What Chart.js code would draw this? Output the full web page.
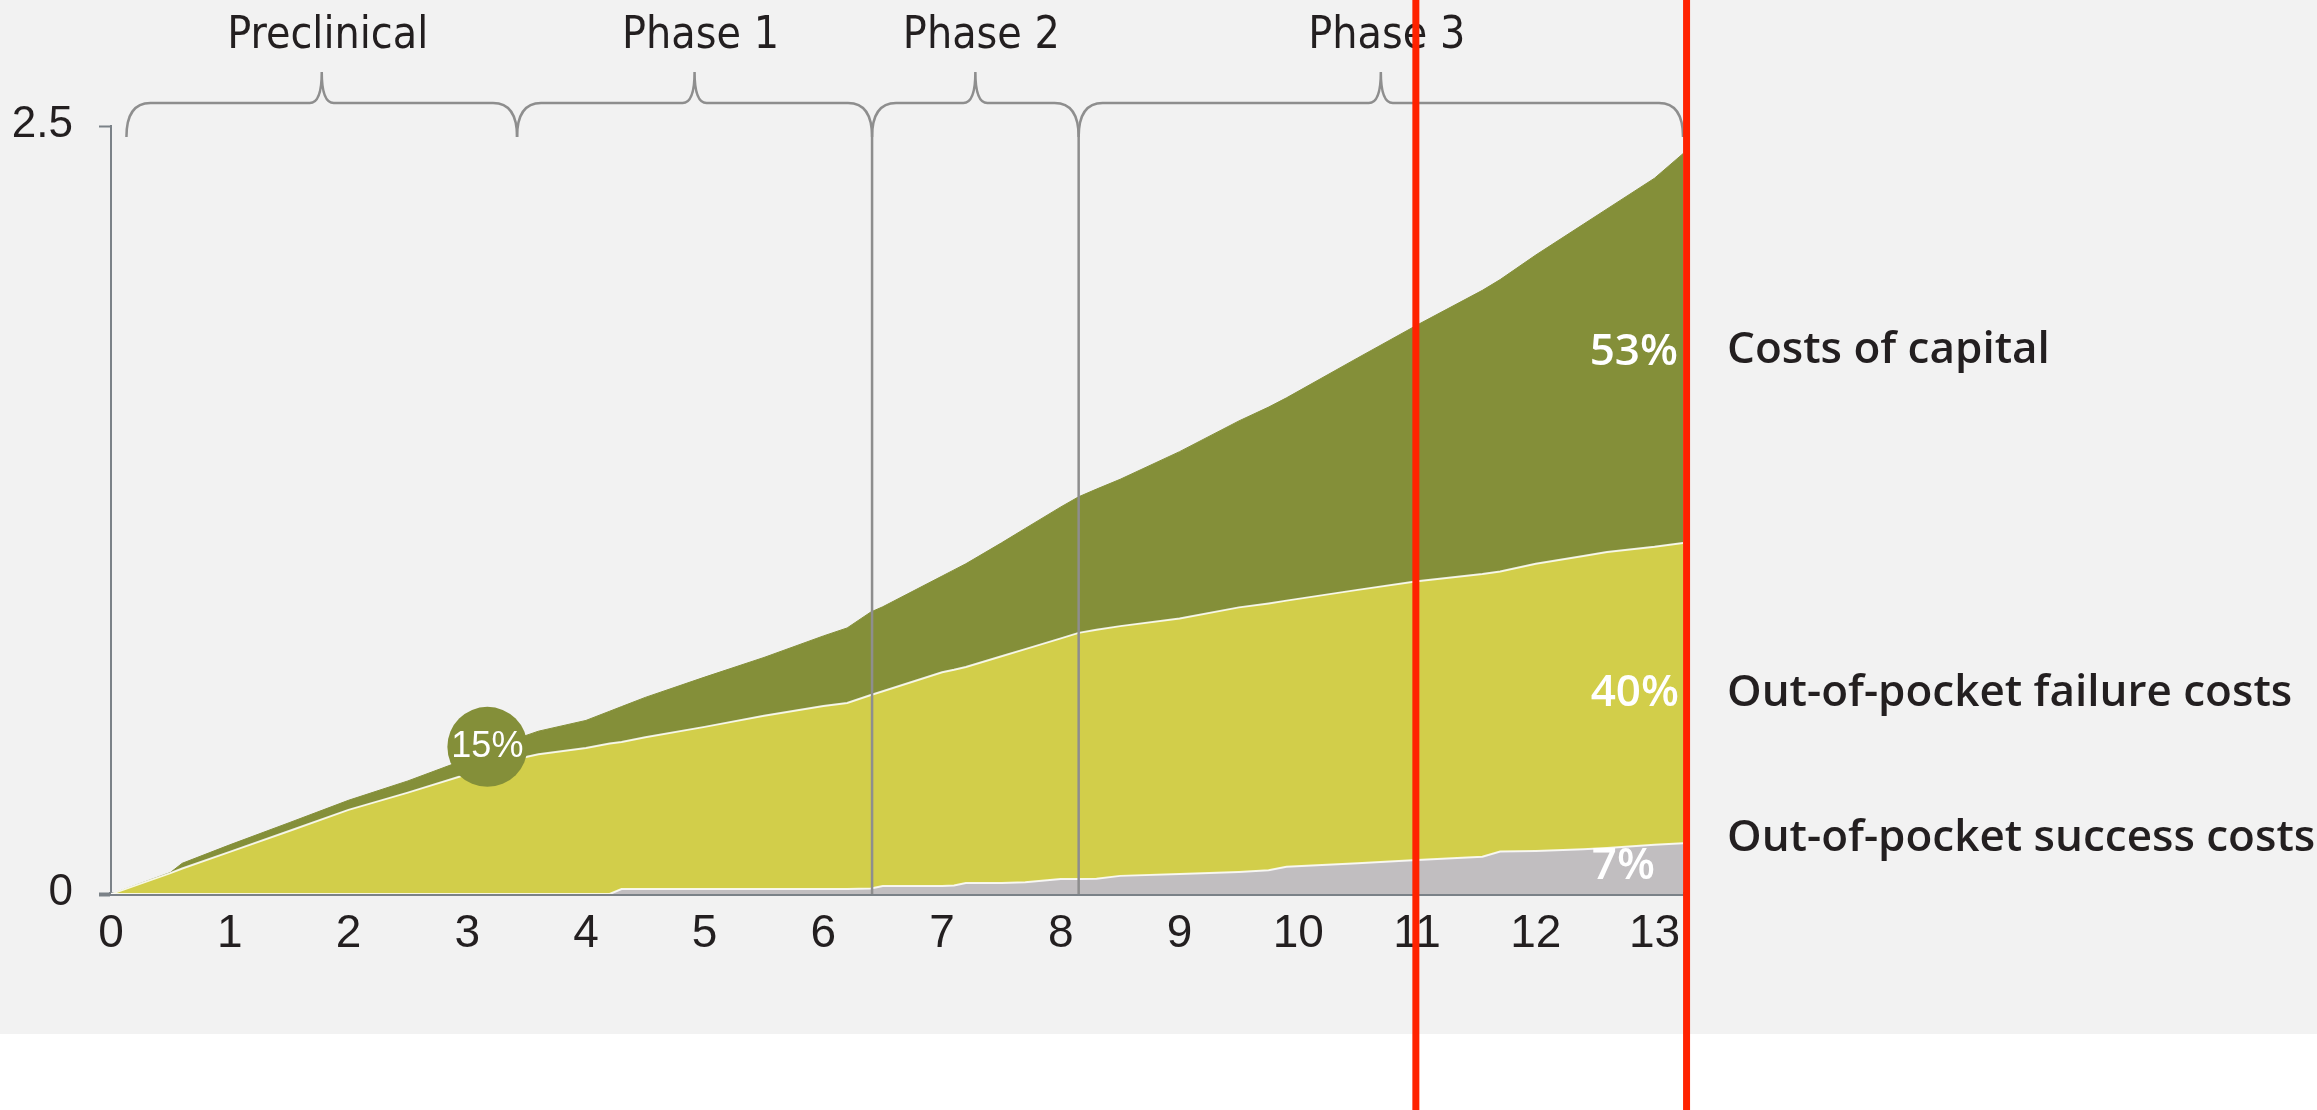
<!DOCTYPE html>
<html>
<head>
<meta charset="utf-8">
<script src="https://cdn.jsdelivr.net/npm/chart.js@4.4.1/dist/chart.umd.min.js"></script>
<style>
  html, body { margin: 0; padding: 0; background: #fff; }
  #wrap { position: relative; width: 2317px; height: 1110px; }
  #bg { position: absolute; left: 0; top: 0; width: 2317px; height: 1034px; background: #f2f2f2; }
  canvas { position: absolute; left: 0; top: 0; }
</style>
</head>
<body>
<div id="wrap"><div id="bg"></div><canvas id="chart" width="2317" height="1110"></canvas></div>
<script>
// years since start of development
const years = [0, 0.5, 0.6, 1, 1.5, 2, 2.5, 3, 3.3, 3.6, 4, 4.2, 4.3, 4.5, 5, 5.5, 6, 6.2, 6.4, 6.5,
  7, 7.1, 7.2, 7.5, 7.7, 8, 8.15, 8.3, 8.5, 9, 9.5, 9.75, 9.9, 10.5, 11, 11.55, 11.7, 12, 12.4, 12.6, 13, 13.24];
// cost per layer, stacked
const successCosts = [0, 0, 0, 0, 0, 0, 0, 0, 0, 0, 0, 0, 0.016, 0.016, 0.016, 0.016, 0.016, 0.016, 0.018, 0.026,
  0.026, 0.028, 0.036, 0.036, 0.038, 0.049, 0.049, 0.05, 0.059, 0.065, 0.072, 0.077, 0.089, 0.1, 0.111, 0.121, 0.138, 0.14, 0.146, 0.15, 0.16, 0.165];
const failureCosts = [0, 0.068, 0.083, 0.137, 0.205, 0.274, 0.33, 0.39, 0.43, 0.455, 0.475, 0.49, 0.479, 0.494, 0.528, 0.564, 0.596, 0.606, 0.63, 0.634,
  0.696, 0.702, 0.703, 0.738, 0.759, 0.783, 0.801, 0.81, 0.813, 0.832, 0.861, 0.869, 0.866, 0.89, 0.907, 0.921, 0.912, 0.935, 0.954, 0.963, 0.97, 0.978];
const capitalCosts = [0, 0.002, 0.017, 0.023, 0.027, 0.031, 0.038, 0.05, 0.06, 0.075, 0.09, 0.105, 0.115, 0.13, 0.162, 0.19, 0.228, 0.244, 0.27, 0.275,
  0.313, 0.325, 0.336, 0.369, 0.393, 0.428, 0.443, 0.458, 0.478, 0.543, 0.607, 0.639, 0.66, 0.755, 0.834, 0.923, 0.95, 1.005, 1.08, 1.117, 1.2, 1.267];

const xTicks = [0, 1, 2, 3, 4, 5, 6, 7, 8, 9, 10, 11, 12, 13];
const yTicks = [0, 2.5];
const phaseNames = ["Preclinical", "Phase 1", "Phase 2", "Phase 3"];
const phaseStarts = [0.13, 3.42, 6.41, 8.15];
const phaseEnds = [3.42, 6.41, 8.15, 13.24];
const seriesNames = ["Out-of-pocket success costs", "Out-of-pocket failure costs", "Costs of capital"];
const shareLabels = ["7%", "40%", "53%"];
const earlyCapitalShare = "15%";
const markedYears = [10.99, 13.27];

const GREEN = "#848f39";
const YELLOW = "#d2ce4a";
const GREY = "#c1bec0";
const AXIS = "#7b8288";
const TEXT = "#231f20";
const NARROW = "'Liberation Sans Narrow', 'DejaVu Sans Condensed', 'Liberation Sans', sans-serif";

const layer = (vals) => years.map((yr, i) => ({ x: yr, y: vals[i] }));

function drawBrace(ctx, xl, xr) {
  const yTop = 103, yEnd = 137, yTip = 72;
  const xm = (xl + xr) / 2;
  ctx.beginPath();
  ctx.moveTo(xl, yEnd);
  ctx.quadraticCurveTo(xl, yTop, xl + 24, yTop);
  ctx.lineTo(xm - 12, yTop);
  ctx.quadraticCurveTo(xm, yTop, xm, yTip);
  ctx.quadraticCurveTo(xm, yTop, xm + 12, yTop);
  ctx.lineTo(xr - 24, yTop);
  ctx.quadraticCurveTo(xr, yTop, xr, yEnd);
  ctx.stroke();
}

const decorations = {
  id: "decorations",
  afterDatasetsDraw(chart) {
    const { ctx, chartArea } = chart;
    const x = chart.scales.x, y = chart.scales.y;
    ctx.save();

    // phase dividers
    ctx.strokeStyle = "#8e8e8e";
    ctx.lineWidth = 2.5;
    phaseStarts.slice(2).forEach(v => {
      const px = x.getPixelForValue(v);
      ctx.beginPath();
      ctx.moveTo(px, 137);
      ctx.lineTo(px, chartArea.bottom);
      ctx.stroke();
    });

    // braces + phase names (font sized so "Preclinical" is ~201px wide)
    if ("fontStretch" in ctx) ctx.fontStretch = "condensed";
    ctx.font = "50px " + NARROW;
    const size = Math.min(52, 50 * 201 / ctx.measureText(phaseNames[0]).width);
    ctx.font = size.toFixed(1) + "px " + NARROW;
    ctx.fillStyle = TEXT;
    ctx.textAlign = "center";
    ctx.textBaseline = "middle";
    phaseNames.forEach((name, i) => {
      const xl = x.getPixelForValue(phaseStarts[i]);
      const xr = x.getPixelForValue(phaseEnds[i]);
      drawBrace(ctx, xl, xr);
      ctx.fillText(name, (xl + xr) / 2 + 6, 36);
    });
    if ("fontStretch" in ctx) ctx.fontStretch = "normal";

    // y labels
    ctx.font = "44px 'Liberation Sans'";
    ctx.textAlign = "right";
    yTicks.forEach(v => ctx.fillText(String(v), chartArea.left - 38, y.getPixelForValue(v) - 1));

    // 15% bubble
    const bx = x.getPixelForValue(3.17), by = y.getPixelForValue(0.479);
    ctx.fillStyle = GREEN;
    ctx.beginPath();
    ctx.arc(bx, by, 40, 0, Math.PI * 2);
    ctx.fill();
    ctx.fillStyle = "#fff";
    ctx.font = "36px 'Liberation Sans'";
    ctx.textAlign = "center";
    ctx.fillText(earlyCapitalShare, bx, by);

    // shares at the end
    const end = x.getPixelForValue(13.24);
    const shareY = [0.088, 0.654, 1.764];
    const shareRight = [end - 28, end - 4, end - 5];
    ctx.font = "600 44px 'Open Sans'";
    ctx.textAlign = "right";
    shareLabels.forEach((t, i) => ctx.fillText(t, shareRight[i], y.getPixelForValue(shareY[i])));

    // series names on the right
    const nameY = [0.182, 0.654, 1.77];
    ctx.fillStyle = TEXT;
    ctx.textAlign = "left";
    seriesNames.forEach((t, i) => ctx.fillText(t, end + 44, y.getPixelForValue(nameY[i])));
    ctx.restore();
  },
  afterDraw(chart) {
    const { ctx } = chart;
    const x = chart.scales.x;
    ctx.save();
    ctx.strokeStyle = "#ff2200";
    ctx.lineWidth = 7;
    markedYears.forEach(v => {
      const px = x.getPixelForValue(v);
      ctx.beginPath();
      ctx.moveTo(px, 0);
      ctx.lineTo(px, chart.height);
      ctx.stroke();
    });
    ctx.restore();
  }
};

new Chart(document.getElementById("chart"), {
  type: "line",
  data: {
    datasets: [
      { label: seriesNames[0], data: layer(successCosts), backgroundColor: GREY, fill: "origin",
        borderColor: "rgba(255,255,255,0.85)", borderWidth: 2 },
      { label: seriesNames[1], data: layer(failureCosts), backgroundColor: YELLOW, fill: "-1",
        borderColor: "rgba(255,255,255,0.85)", borderWidth: 2 },
      { label: seriesNames[2], data: layer(capitalCosts), backgroundColor: GREEN, fill: "-1",
        borderColor: GREEN, borderWidth: 1 }
    ]
  },
  options: {
    responsive: false,
    devicePixelRatio: 1,
    animation: false,
    layout: { padding: { left: 0, top: 126, right: 634, bottom: 0 } },
    elements: { point: { radius: 0 }, line: { tension: 0 } },
    plugins: { legend: { display: false }, tooltip: { enabled: false } },
    scales: {
      x: {
        type: "linear",
        min: 0,
        max: 13.24,
        afterFit: s => { s.height = 216; },
        afterBuildTicks: s => { s.ticks = xTicks.map(v => ({ value: v })); },
        grid: { display: false, drawTicks: false },
        border: { display: true, color: AXIS, width: 4 },
        ticks: { padding: 13, color: TEXT, font: { family: "Liberation Sans", size: 46 }, maxRotation: 0, autoSkip: false }
      },
      y: {
        stacked: true,
        min: 0,
        max: 2.5,
        afterFit: s => { s.width = 111; },
        afterBuildTicks: s => { s.ticks = yTicks.map(v => ({ value: v })); },
        grid: { drawOnChartArea: false, drawTicks: true, tickLength: 12, color: AXIS,
          tickWidth: c => (c.tick && c.tick.value === 0 ? 4 : 2) },
        border: { display: true, color: AXIS, width: 2 },
        ticks: { display: false }
      }
    }
  },
  plugins: [decorations]
});
</script>
</body>
</html>
